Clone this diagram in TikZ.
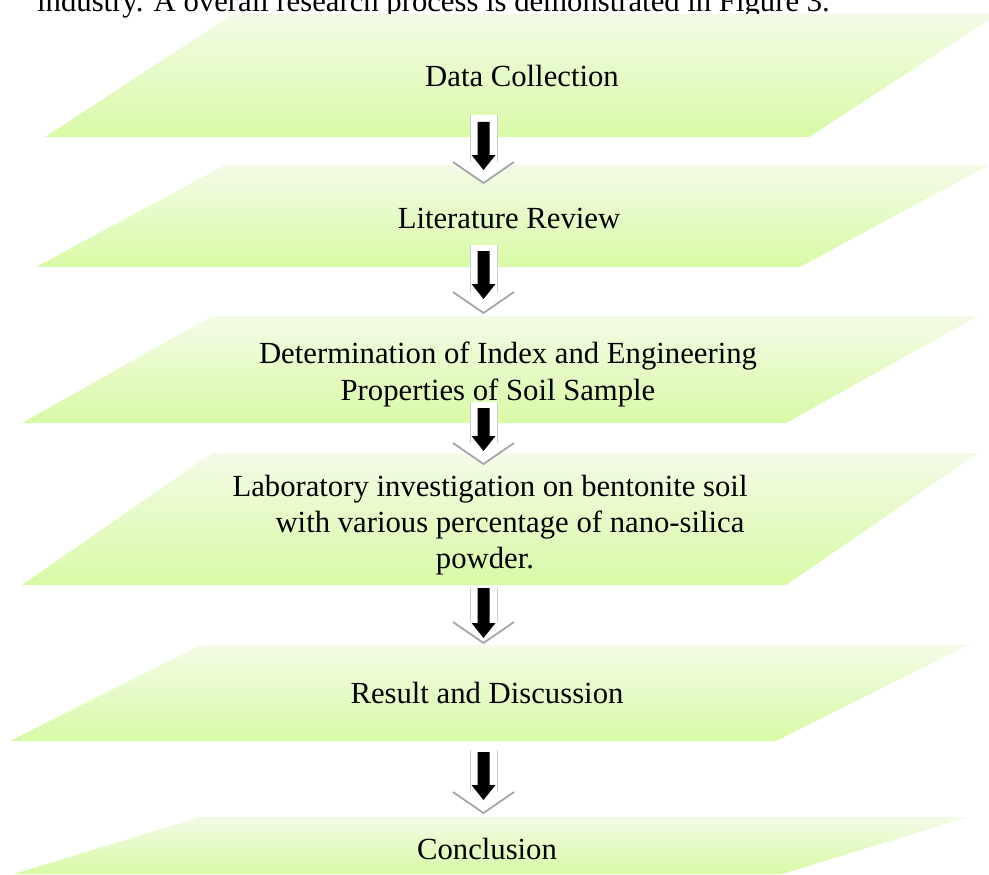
\documentclass[tikz,border=0pt]{standalone}
\usepackage{fontspec}
\setmainfont{Liberation Serif}
\definecolor{boxtop}{RGB}{243,251,230}
\definecolor{boxbot}{RGB}{216,250,166}
\definecolor{vgray}{RGB}{165,165,165}
\definecolor{sgray}{RGB}{205,205,205}
% #1 outer top, #2 outer tip, #3 inner top, #4 inner tip
\newcommand{\flowarr}[4]{%
  \fill[white] (470,#1) -- (470,{#2-21}) -- (453,{#2-21}) -- (483.5,#2) -- (514,{#2-21}) -- (497,{#2-21}) -- (497,#1) -- cycle;
  \draw[sgray, line width=0.8pt] (470,#1) -- (470,{#2-21});
  \draw[sgray, line width=0.8pt] (497,#1) -- (497,{#2-21});
  \draw[vgray, line width=1.8pt, line join=miter] (453,{#2-21}) -- (483.5,#2) -- (514,{#2-21});
  \fill[black] (477.5,#3) -- (477.5,{#4-15}) -- (471.5,{#4-15}) -- (483.5,#4) -- (495.5,{#4-15}) -- (489.5,{#4-15}) -- (489.5,#3) -- cycle;
}
\begin{document}
\begin{tikzpicture}[x=1pt,y=-1pt,
  stepbox/.style={top color=boxtop, bottom color=boxbot, draw=none},
  lbl/.style={anchor=base, inner sep=0pt, font=\fontsize{30.7}{37.5}\selectfont}]
\useasboundingbox (0,0) rectangle (989,875);
\clip (0,0) rectangle (989,875);

% intro text (partly cut off at top, as in the reference)
\node[lbl, anchor=base west] (intro) at (37,12) {industry. A overall research process is demonstrated in Figure 3.};

% parallelograms
\shade[stepbox] (233,14) -- (998,14) -- (809,137) -- (45,137) -- cycle;
\shade[stepbox] (225,165) -- (989,165) -- (800,267) -- (36,267) -- cycle;
\shade[stepbox] (212,316) -- (978,316) -- (786,423) -- (22,423) -- cycle;
\shade[stepbox] (212,453) -- (978,453) -- (786,585) -- (22,585) -- cycle;
\shade[stepbox] (200,645) -- (968,645) -- (776,741) -- (10,741) -- cycle;
\shade[stepbox] (200,817) -- (968,817) -- (782,874) -- (14,874) -- cycle;

% labels
\node[lbl] (t1) at (522,87) {Data Collection};
\node[lbl] (t2) at (509,228) {Literature Review};
\node[lbl] (t3a) at (508,363) {Determination of Index and Engineering};
\node[lbl] (t3b) at (498,400) {Properties of Soil Sample};
\node[lbl] (t4a) at (490,496) {Laboratory investigation on bentonite soil};
\node[lbl] (t4b) at (510,532) {with various percentage of nano-silica};
\node[lbl] (t4c) at (485,568) {powder.};
\node[lbl] (t5) at (487,703) {Result and Discussion};
\node[lbl] (t6) at (487,859) {Conclusion};

% arrows
\flowarr{115}{183}{122}{170}
\flowarr{245}{313}{251}{299}
\flowarr{402}{464}{408}{451}
\flowarr{587}{643}{588}{638}
\flowarr{750}{813}{752}{800}
\end{tikzpicture}
\end{document}
